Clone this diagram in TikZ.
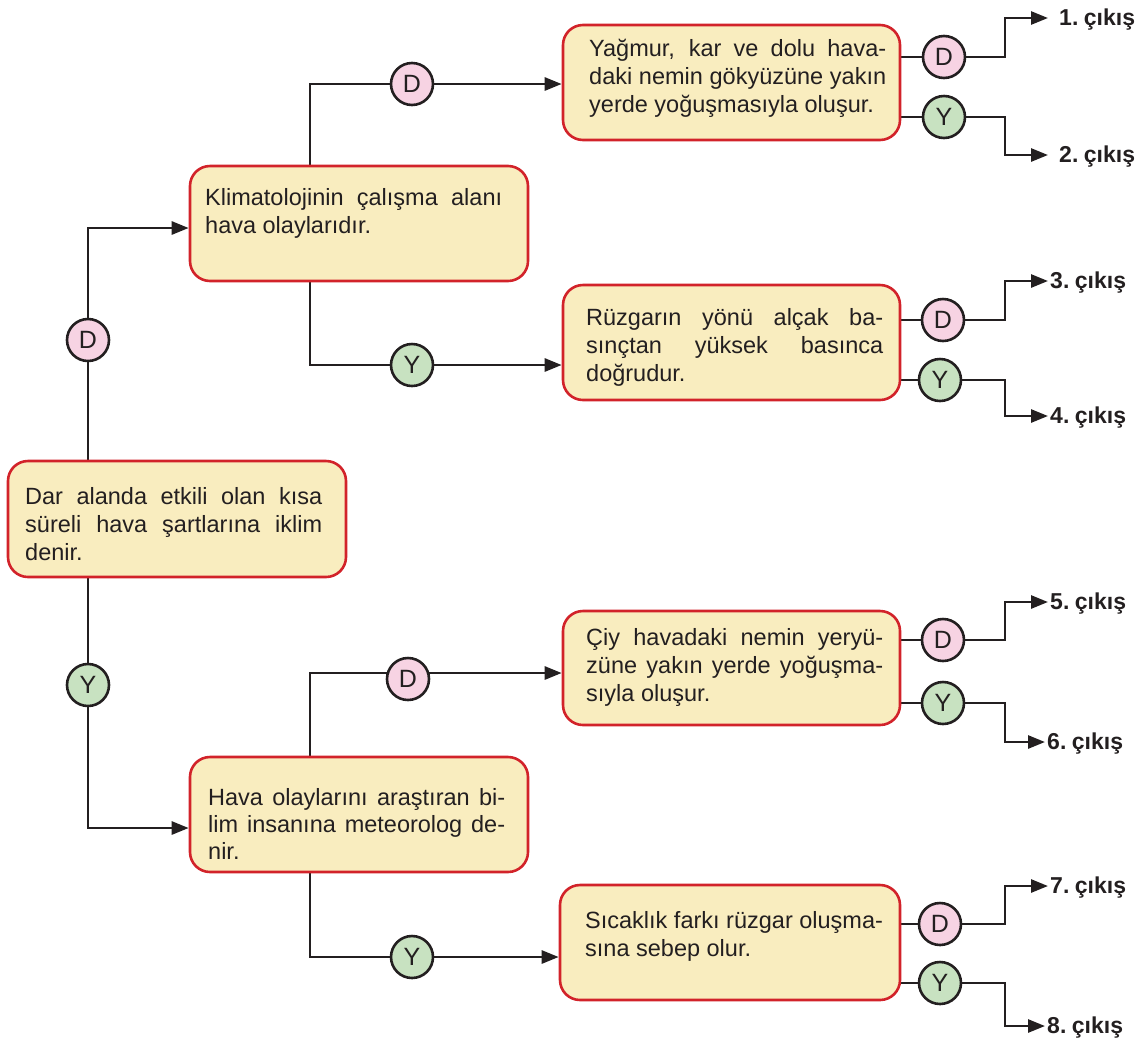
\documentclass[tikz,border=0pt]{standalone}
\usepackage{fontspec}
\setmainfont{Liberation Sans}
\usetikzlibrary{arrows.meta}
\definecolor{ink}{HTML}{231F20}
\definecolor{boxred}{HTML}{D2232A}
\definecolor{boxfill}{HTML}{F9EDBF}
\definecolor{dpink}{HTML}{F7D3E3}
\definecolor{ygreen}{HTML}{C8E2C1}
\newlength\tw \setlength\tw{297pt}
\newcommand\jl[1]{\hbox to \tw{\spaceskip=.25em plus 1fil\relax #1}}
\pgfdeclarelayer{bg}
\pgfsetlayers{bg,main}
\begin{document}
\begin{tikzpicture}[x=1pt,y=-1pt,
  bx/.style={draw=boxred, fill=boxfill, line width=2.6pt, rounded corners=20pt,
    minimum width=338pt, minimum height=115pt, inner sep=0pt},
  txt/.style={anchor=base west, inner sep=0pt, text=ink, font=\fontsize{23.5}{28}\selectfont},
  cir/.style={circle, draw=ink, line width=2.6pt, minimum size=42pt, inner sep=0pt,
    text=ink, font=\fontsize{25}{25}\selectfont},
  cD/.style={cir, fill=dpink},
  cY/.style={cir, fill=ygreen},
  lbl/.style={anchor=base west, inner sep=0pt, text=ink, font=\fontsize{23}{23}\selectfont\bfseries},
  ln/.style={draw=ink, line width=2.7pt},
  arr/.style={ln, -{Triangle[length=17pt,width=13pt]}}]
\useasboundingbox (0,0) rectangle (1145,1045);

% boxes
\node[bx, minimum height=116pt] (root) at (177,519) {};
\node[bx] (klim) at (359,223.5) {};
\node[bx] (hava) at (359,814.5) {};
\node[bx, minimum width=337pt] (yag) at (731.5,82.5) {};
\node[bx, minimum width=337pt] (ruz) at (731.5,342.5) {};
\node[bx, minimum width=337pt, minimum height=114pt] (ciy) at (731.5,668) {};
\node[bx, minimum width=340pt] (sic) at (730,942.5) {};

% texts
\node[txt] (troot) at (25,504.3) {\vtop{\jl{Dar alanda etkili olan kısa}\jl{süreli hava şartlarına iklim}\hbox{denir.}}};
\node[txt] (tklim) at (205,205.7) {\vtop{\jl{Klimatolojinin çalışma alanı}\hbox{hava olaylarıdır.}}};
\node[txt] (thava) at (208,805) {\vtop{\baselineskip=27pt\jl{Hava olaylarını araştıran bi-}\jl{lim insanına meteorolog de-}\hbox{nir.}}};
\node[txt] (tyag) at (589,56.7) {\vtop{\jl{Yağmur, kar ve dolu hava-}\jl{daki nemin gökyüzüne yakın}\hbox{yerde yoğuşmasıyla oluşur.}}};
\node[txt] (truz) at (586,325) {\vtop{\jl{Rüzgarın yönü alçak ba-}\jl{sınçtan yüksek basınca}\hbox{doğrudur.}}};
\node[txt] (tciy) at (586,645) {\vtop{\jl{Çiy havadaki nemin yeryü-}\jl{züne yakın yerde yoğuşma-}\hbox{sıyla oluşur.}}};
\node[txt] (tsic) at (585,928) {\vtop{\hbox{Sıcaklık farkı rüzgar oluşma-}\hbox{sına sebep olur.}}};

% circles, left part
\node[cD] (dR) at (88,340) {D};
\node[cY] (yR) at (88,685) {Y};
\node[cD] (dK) at (412,84) {D};
\node[cY] (yK) at (412,365) {Y};
\node[cD] (dH) at (408,679) {D};
\node[cY] (yH) at (412,957) {Y};

% circles, right part
\node[cD] (d1) at (944,57) {D};
\node[cY] (y1) at (944,117) {Y};
\node[cD] (d3) at (943,320) {D};
\node[cY] (y3) at (940,380) {Y};
\node[cD] (d5) at (943,640) {D};
\node[cY] (y5) at (943,703) {Y};
\node[cD] (d7) at (940,924) {D};
\node[cY] (y7) at (940,983) {Y};

% outputs
\newcommand\out[1]{#1.\hspace{.24em}çıkış}
\node[lbl] (l1) at (1059,25.5) {\out{1}};
\node[lbl] (l2) at (1059,162.5) {\out{2}};
\node[lbl] (l3) at (1050,288.5) {\out{3}};
\node[lbl] (l4) at (1050,423.5) {\out{4}};
\node[lbl] (l5) at (1050,609.5) {\out{5}};
\node[lbl] (l6) at (1047,749.5) {\out{6}};
\node[lbl] (l7) at (1050,893.5) {\out{7}};
\node[lbl] (l8) at (1047,1033.5) {\out{8}};

% helper coordinates
\coordinate (rA) at (88,228);
\coordinate (rB) at (88,828);
\coordinate (kA) at (310,84);
\coordinate (kB) at (310,365);
\coordinate (hA) at (310,673);
\coordinate (hB) at (310,957);
\coordinate (ex) at (1005,0);
\coordinate (a1) at ([shift={(-11pt,7.5pt)}]l1.base west);
\coordinate (a2) at ([shift={(-11pt,7.5pt)}]l2.base west);
\coordinate (a3) at ([shift={(-2pt,7.5pt)}]l3.base west);
\coordinate (a4) at ([shift={(-2pt,7.5pt)}]l4.base west);
\coordinate (a5) at ([shift={(-2pt,7.5pt)}]l5.base west);
\coordinate (a6) at ([shift={(-2pt,7.5pt)}]l6.base west);
\coordinate (a7) at ([shift={(-2pt,7.5pt)}]l7.base west);
\coordinate (a8) at ([shift={(-2pt,7.5pt)}]l8.base west);

\begin{pgfonlayer}{bg}
  \draw[arr] (root.north -| rA) -- (rA) -- (klim.west |- rA);
  \draw[arr] (root.south -| rB) -- (rB) -- (hava.west |- rB);
  \draw[arr] (klim.north -| kA) -- (kA) -- (yag.west |- kA);
  \draw[arr] (klim.south -| kB) -- (kB) -- (ruz.west |- kB);
  \draw[arr] (hava.north -| hA) -- (hA) -- (ciy.west |- hA);
  \draw[arr] (hava.south -| hB) -- (hB) -- (sic.west |- hB);
  \draw[arr] (yag.east |- d1) -| (ex |- a1) -- (a1);
  \draw[arr] (yag.east |- y1) -| (ex |- a2) -- (a2);
  \draw[arr] (ruz.east |- d3) -| (ex |- a3) -- (a3);
  \draw[arr] (ruz.east |- y3) -| (ex |- a4) -- (a4);
  \draw[arr] (ciy.east |- d5) -| (ex |- a5) -- (a5);
  \draw[arr] (ciy.east |- y5) -| (ex |- a6) -- (a6);
  \draw[arr] (sic.east |- d7) -| (ex |- a7) -- (a7);
  \draw[arr] (sic.east |- y7) -| (ex |- a8) -- (a8);
\end{pgfonlayer}
\end{tikzpicture}
\end{document}
